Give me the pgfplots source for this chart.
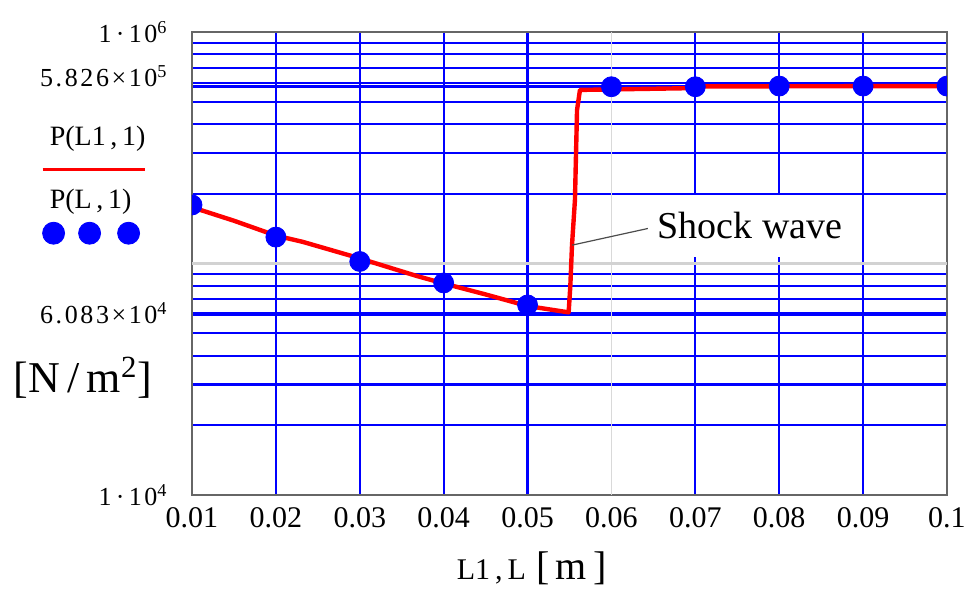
\documentclass[border=0pt]{standalone}
\usepackage{fontspec}
\setmainfont{Liberation Serif}
\newfontfamily\tickfont[LetterSpace=10]{Liberation Serif}
\usepackage{pgfplots}
\pgfplotsset{compat=1.18}
\definecolor{mcblue}{RGB}{0,0,255}
\definecolor{mcred}{RGB}{255,0,0}
\begin{document}
\begin{tikzpicture}
\useasboundingbox (-96pt,-49pt) rectangle (391pt,247.5pt);
\begin{axis}[
  at={(0pt,0pt)}, anchor=south west,
  scale only axis, width=377.5pt, height=231.5pt,
  xmin=0.01, xmax=0.1, ymin=1e4, ymax=1e6, ymode=log,
  xtick={0.01,0.02,0.03,0.04,0.05,0.06,0.07,0.08,0.09,0.1},
  xticklabels={0.01,0.02,0.03,0.04,0.05,0.06,0.07,0.08,0.09,0.1},
  minor xtick={0.02,0.03,0.04,0.05,0.07,0.08,0.09},
  ytick={1e4,6.083e4,5.826e5,1e6},
  yticklabels={1\,·\,10\textsuperscript{4},6.083×10\textsuperscript{4},\raisebox{5pt}[\height][\depth]{5.826×10\textsuperscript{5}},1\,·\,10\textsuperscript{6}},
  minor ytick={2e4,3e4,4e4,5e4,6e4,7e4,8e4,9e4,2e5,3e5,4e5,5e5,6e5,7e5,8e5,9e5},
  xmajorgrids=false, xminorgrids=true, ymajorgrids=true, yminorgrids=true,
  major grid style={mcblue, line width=1.3pt},
  minor grid style={mcblue, line width=1.05pt},
  extra x ticks={0.06}, extra x tick labels={},
  extra x tick style={grid=major, major grid style={gray!30, line width=0.9pt}},
  extra y ticks={1e5}, extra y tick labels={},
  extra y tick style={grid=major, major grid style={gray!35, line width=1.1pt}},
  tick style={draw=none}, major tick length=0pt, minor tick length=0pt,
  axis line style={gray!80!black, line width=0.9pt},
  /pgf/number format/assume math mode=true,
  xticklabel style={font=\fontsize{15}{17}\selectfont, anchor=center, yshift=-11.5pt},
  yticklabel style={font=\tickfont\fontsize{13}{15}\selectfont, anchor=east, inner sep=0pt, xshift=-12pt},
  xlabel={{\fontsize{15}{17}\selectfont L1\,,\,L}\enspace{\fontsize{20}{22}\selectfont [\,m\,]}},
  xlabel style={at={(axis description cs:0.4503,-0.1577)}, anchor=center},
  ylabel={[N\,/\,m\textsuperscript{2}]},
  ylabel style={rotate=-90, at={(axis description cs:-0.1444,0.2527)}, anchor=center, font=\fontsize{22}{24}\selectfont},
  clip marker paths=true,
  legend style={at={(axis description cs:-0.1947,0.7987)}, anchor=north west, draw=none, fill=none,
    row sep=20.5pt, column sep=0pt, inner sep=0pt,
    nodes={inner sep=0pt, font=\fontsize{14}{16}\selectfont}},
  legend cell align=left,
]
\addplot[mcred, line width=2.2pt, line join=round,
  legend image code/.code={\path (0pt,0pt); \draw[overlay, mcred, line width=1.5pt] (-2.5pt,-16.5pt) -- (48.5pt,-16.5pt);}]
  coordinates {
  (0.01,1.75e5) (0.015,1.53e5) (0.02,1.32e5) (0.0232,1.24e5) (0.0297,1.06e5)
  (0.0368,8.83e4) (0.04,8.2e4) (0.045,7.35e4) (0.05,6.55e4) (0.0549,6.15e4)
  (0.0551,8e4) (0.0553,1.2e5) (0.05565,1.88e5) (0.0559,4.6e5) (0.05625,5.62e5)
  (0.0695,5.72e5) (0.0705,5.82e5) (0.1,5.84e5)
  };
\addlegendentry{P(L1\,,\,1)}
\addplot[only marks, mark=*, mark size=5pt, mcblue, mark options={fill=mcblue, draw=mcblue},
  legend image code/.code={\path (0pt,0pt);
    \fill[overlay, mcblue] (3pt,-16.5pt) circle (5.5pt);
    \fill[overlay, mcblue] (21pt,-16.5pt) circle (5.5pt);
    \fill[overlay, mcblue] (40.5pt,-16.5pt) circle (5.5pt);}]
  coordinates {
  (0.01,1.79e5) (0.02,1.3e5) (0.03,1.02e5) (0.04,8.24e4) (0.05,6.62e4)
  (0.06,5.8e5) (0.07,5.8e5) (0.08,5.84e5) (0.09,5.84e5) (0.1,5.84e5)
  };
\addlegendentry{P(L\,,\,1)}
\draw[black!70, line width=0.6pt] (axis cs:0.0553,1.2e5) -- (axis cs:0.0646,1.423e5);
\node[fill=white, inner xsep=5pt, minimum height=31pt, font=\fontsize{19}{21}\selectfont]
  at (axis cs:0.0765,1.452e5) {Shock wave};
\end{axis}
\end{tikzpicture}
\end{document}
